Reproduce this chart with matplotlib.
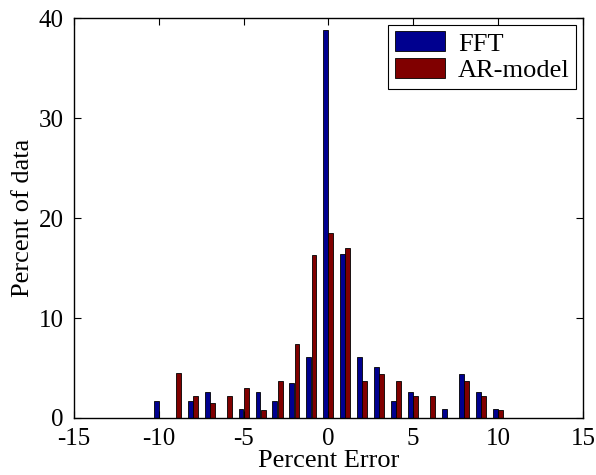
import numpy as np
import matplotlib
matplotlib.use('Agg')
import matplotlib.pyplot as plt
from matplotlib.patches import Rectangle
from matplotlib.legend_handler import HandlerPatch

# percent error bins and percent of data in each bin
bins = np.arange(-10, 11)
fft_pct = [1.7, 0, 1.7, 2.6, 0, 0.9, 2.6, 1.7, 3.5, 6.1, 38.8,
           16.4, 6.1, 5.1, 1.7, 2.6, 0, 0.9, 4.4, 2.6, 0.9]
ar_pct = [0, 4.5, 2.2, 1.5, 2.2, 3.0, 0.8, 3.7, 7.4, 16.3, 18.5,
          17.0, 3.7, 4.4, 3.7, 2.2, 2.2, 0, 3.7, 2.2, 0.8]
series_names = ['FFT', 'AR-model']

plt.rcParams['font.family'] = 'serif'
plt.rcParams['font.serif'] = ['Liberation Serif', 'DejaVu Serif']
plt.rcParams['axes.unicode_minus'] = False


def inset_patch(legend, orig_handle, xdescent, ydescent, width, height, fontsize):
    # leave some empty room left of the colour swatch, like the original
    dx = 0.28 * fontsize
    return Rectangle((-xdescent + dx, -ydescent), width - dx, height)


fig = plt.figure(figsize=(5.96, 4.75), dpi=100)
ax = fig.add_axes([0.124, 0.12, 0.854, 0.842])

w = 0.29
b1 = ax.bar(bins - 0.15, fft_pct, width=w, color=(0, 0, 0.5625),
            edgecolor='black', linewidth=0.6, label=series_names[0])
b2 = ax.bar(bins + 0.15, ar_pct, width=w, color=(0.5, 0, 0),
            edgecolor='black', linewidth=0.6, label=series_names[1])

ax.set_xlim(-15, 15)
ax.set_ylim(0, 40)
ax.set_xticks(np.arange(-15, 16, 5))
ax.set_yticks(np.arange(0, 41, 10))
ax.tick_params(direction='in', length=5, width=0.8, top=True, right=True,
               labelsize=18, pad=7.5)
for s in ax.spines.values():
    s.set_linewidth(1.0)

ax.set_xlabel('Percent Error', fontsize=19, labelpad=-0.5)
ax.set_ylabel('Percent of data', fontsize=19, labelpad=3)

hm = {Rectangle: HandlerPatch(patch_func=inset_patch)}
leg = ax.legend(loc='upper right', fontsize=19, fancybox=False,
                edgecolor='black', framealpha=1, borderaxespad=0.25,
                handlelength=1.9, handleheight=0.8, borderpad=0.25,
                labelspacing=0.1, handletextpad=0.5, handler_map=hm)
leg.get_frame().set_linewidth(0.8)

fig.savefig('out.png', dpi=100)
